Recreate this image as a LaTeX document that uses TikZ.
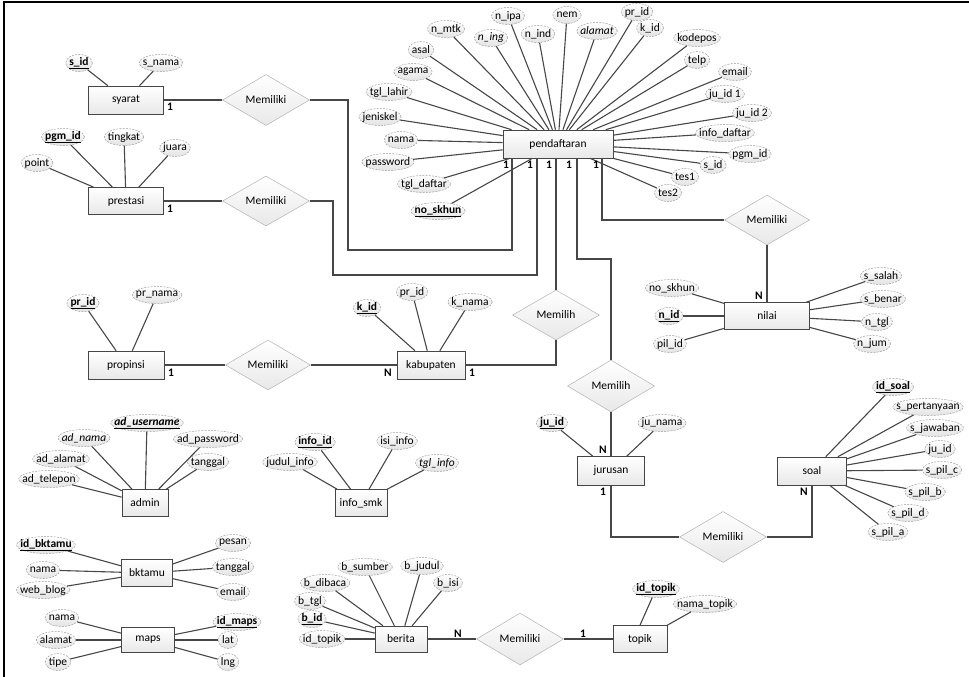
\documentclass[tikz,border=0pt]{standalone}
\usepackage{fontspec}
\setmainfont{Carlito}
\usetikzlibrary{shapes.geometric}
\newcommand\erfont{\fontsize{11.5}{13}\selectfont}
\newcommand\attr[4][]{\node[attrib,#1] (#2) at (#3) {\makebox[0.7071\width]{#4}};}
\tikzset{
 attrib/.style={ellipse, draw=gray!75, dash pattern=on 2pt off 1.2pt, line width=0.5pt, top color=white, bottom color=gray!22, inner xsep=2.6pt, inner ysep=0pt, minimum height=17pt},
 entity/.style={rectangle, draw=gray!55!black, top color=white, bottom color=gray!18, inner sep=0pt, line width=0.6pt},
 relat/.style={diamond, draw=gray!60, top color=white, bottom color=gray!18, inner sep=0pt, line width=0.5pt},
 al/.style={draw=black!72, line width=1.1pt},
 rl/.style={draw=black!72, line width=1.4pt},
 card/.style={font=\erfont\bfseries, inner sep=0pt},
}
\begin{document}
\begin{tikzpicture}[x=1pt,y=-1pt, every node/.style={font=\erfont}]
\useasboundingbox (0,0) rectangle (969,677);
\draw[line width=2.5pt, black] (4,677) -- (4,2) -- (969,2);

% entities
\node[entity, minimum width=75pt, minimum height=28pt] (syarat) at (126,100) {syarat};
\node[entity, minimum width=75pt, minimum height=27pt] (prestasi) at (126,201) {prestasi};
\node[entity, minimum width=110pt, minimum height=28pt] (pend) at (558,144) {pendaftaran};
\node[entity, minimum width=76pt, minimum height=28pt] (prop) at (126,365) {propinsi};
\node[entity, minimum width=68pt, minimum height=28pt] (kab) at (431,365) {kabupaten};
\node[entity, minimum width=85pt, minimum height=27pt] (nilai) at (767,316) {nilai};
\node[entity, minimum width=67pt, minimum height=29pt] (jur) at (611,471) {jurusan};
\node[entity, minimum width=69pt, minimum height=28pt] (soal) at (812,471) {soal};
\node[entity, minimum width=46pt, minimum height=27pt] (admin) at (145,503) {admin};
\node[entity, minimum width=52pt, minimum height=27pt] (info) at (361,503) {info\_smk};
\node[entity, minimum width=51pt, minimum height=27pt] (bktamu) at (147,573) {bktamu};
\node[entity, minimum width=53pt, minimum height=25pt] (maps) at (148,640) {maps};
\node[entity, minimum width=52pt, minimum height=26pt] (berita) at (401,639) {berita};
\node[entity, minimum width=54pt, minimum height=27pt] (topik) at (640,639) {topik};

% relationships
\node[relat, minimum width=87pt, minimum height=51pt] (mA) at (266,100) {\makebox[0pt]{Memiliki}};
\node[relat, minimum width=87pt, minimum height=50pt] (mB) at (266,201) {\makebox[0pt]{Memiliki}};
\node[relat, minimum width=85pt, minimum height=50pt] (mC) at (268,365) {\makebox[0pt]{Memiliki}};
\node[relat, minimum width=87pt, minimum height=50pt] (mD) at (556,315) {\makebox[0pt]{Memilih}};
\node[relat, minimum width=85pt, minimum height=50pt] (mE) at (767,220) {\makebox[0pt]{Memiliki}};
\node[relat, minimum width=87pt, minimum height=52pt] (mF) at (611,386) {\makebox[0pt]{Memilih}};
\node[relat, minimum width=87pt, minimum height=51pt] (mG) at (723,537) {\makebox[0pt]{Memiliki}};
\node[relat, minimum width=87pt, minimum height=52pt] (mH) at (520,639) {\makebox[0pt]{Memiliki}};

% pendaftaran attributes
\attr{pa1}{508,16}{n\_ipa}
\attr{pa2}{567,15}{nem}
\attr{pa3}{446,29}{n\_mtk}
\attr{pa4}{491,38}{\textit{n\_ing}}
\attr{pa5}{538,34}{n\_ind}
\attr{pa6}{597,31}{\textit{alamat}}
\attr{pa7}{421,50}{asal}
\attr{pa8}{413,72}{agama}
\attr{pa9}{389,92}{tgl\_lahir}
\attr{pa10}{380,117}{jeniskel}
\attr{pa11}{401,140}{nama}
\attr{pa12}{388,162}{password}
\attr{pa13}{424,184}{tgl\_daftar}
\attr{pa14}{438,211}{\textbf{\underline{no\_skhun}}}
\attr{pa15}{637,12}{pr\_id}
\attr{pa16}{650,28}{k\_id}
\attr{pa17}{697,38}{kodepos}
\attr{pa18}{697,60}{telp}
\attr{pa19}{735,72}{email}
\attr{pa20}{725,94}{ju\_id 1}
\attr{pa21}{752,113}{ju\_id 2}
\attr{pa22}{725,133}{info\_daftar}
\attr{pa23}{750,154}{pgm\_id}
\attr{pa24}{713,165}{s\_id}
\attr{pa25}{685,177}{tes1}
\attr{pa26}{668,193}{tes2}
\foreach \a in {pa1,pa2,pa3,pa4,pa5,pa6,pa7,pa8,pa9,pa10,pa11,pa12,pa13,pa14,pa15,pa16,pa17,pa18,pa19,pa20,pa21,pa22,pa23,pa24,pa25,pa26} \draw[al] (\a) -- (pend);

% syarat
\attr{sy1}{79,63}{\textbf{\underline{s\_id}}}
\attr{sy2}{161,63}{s\_nama}
\foreach \a in {sy1,sy2} \draw[al] (\a) -- (syarat);
% prestasi
\attr{pr1}{63,137}{\textbf{\underline{pgm\_id}}}
\attr{pr2}{124,137}{tingkat}
\attr{pr3}{175,148}{juara}
\attr{pr4}{37,163}{point}
\foreach \a in {pr1,pr2,pr3,pr4} \draw[al] (\a) -- (prestasi);
% propinsi
\attr{po1}{83,303}{\textbf{\underline{pr\_id}}}
\attr{po2}{157,295}{pr\_nama}
\foreach \a in {po1,po2} \draw[al] (\a) -- (prop);
% kabupaten
\attr{ka1}{367,308}{\textbf{\underline{k\_id}}}
\attr{ka2}{412,292}{pr\_id}
\attr{ka3}{470,302}{k\_nama}
\foreach \a in {ka1,ka2,ka3} \draw[al] (\a) -- (kab);
% nilai
\attr{ni1}{672,288}{no\_skhun}
\attr{ni2}{669,316}{\textbf{\underline{n\_id}}}
\attr{ni3}{670,344}{pil\_id}
\attr{ni4}{881,276}{s\_salah}
\attr{ni5}{883,299}{s\_benar}
\attr{ni6}{877,322}{n\_tgl}
\attr{ni7}{872,344}{n\_jum}
\foreach \a in {ni1,ni2,ni3,ni4,ni5,ni6,ni7} \draw[al] (\a) -- (nilai);
% jurusan
\attr{ju1}{552,423}{\textbf{\underline{ju\_id}}}
\attr{ju2}{662,423}{ju\_nama}
\foreach \a in {ju1,ju2} \draw[al] (\a) -- (jur);
% soal
\attr{so1}{893,387}{\textbf{\underline{id\_soal}}}
\attr{so2}{928,407}{s\_pertanyaan}
\attr{so3}{935,428}{s\_jawaban}
\attr{so4}{940,449}{ju\_id}
\attr{so5}{942,470}{s\_pil\_c}
\attr{so6}{925,492}{s\_pil\_b}
\attr{so7}{908,513}{s\_pil\_d}
\attr{so8}{888,532}{s\_pil\_a}
\foreach \a in {so1,so2,so3,so4,so5,so6,so7,so8} \draw[al] (\a) -- (soal);
% admin
\attr{ad1}{147,423}{\textbf{\textit{\underline{ad\_username}}}}
\attr{ad2}{84,438}{\textit{ad\_nama}}
\attr{ad3}{208,439}{ad\_password}
\attr{ad4}{61,459}{ad\_alamat}
\attr{ad5}{208,462}{tanggal}
\attr{ad6}{49,479}{ad\_telepon}
\foreach \a in {ad1,ad2,ad3,ad4,ad5,ad6} \draw[al] (\a) -- (admin);
% info_smk
\attr{in1}{315,442}{\textbf{\underline{info\_id}}}
\attr{in2}{397,441}{isi\_info}
\attr{in3}{290,462}{judul\_info}
\attr{in4}{437,463}{\textit{tgl\_info}}
\foreach \a in {in1,in2,in3,in4} \draw[al] (\a) -- (info);
% bktamu
\attr{bk1}{46,545}{\textbf{\underline{id\_bktamu}}}
\attr{bk2}{43,570}{nama}
\attr{bk3}{43,590}{web\_blog}
\attr{bk4}{233,543}{pesan}
\attr{bk5}{233,567}{tanggal}
\attr{bk6}{233,592}{email}
\foreach \a in {bk1,bk2,bk3,bk4,bk5,bk6} \draw[al] (\a) -- (bktamu);
% maps
\attr{mp1}{62,618}{nama}
\attr{mp2}{56,640}{alamat}
\attr{mp3}{58,662}{tipe}
\attr{mp4}{237,622}{\textbf{\underline{id\_maps}}}
\attr{mp5}{228,640}{lat}
\attr{mp6}{228,662}{lng}
\foreach \a in {mp1,mp2,mp3,mp4,mp5,mp6} \draw[al] (\a) -- (maps);
% berita
\attr{be1}{365,567}{b\_sumber}
\attr{be2}{422,566}{b\_judul}
\attr{be3}{325,583}{b\_dibaca}
\attr{be4}{448,583}{b\_isi}
\attr{be5}{310,601}{b\_tgl}
\attr{be6}{312,619}{\textbf{\underline{b\_id}}}
\attr{be7}{322,639}{id\_topik}
\foreach \a in {be1,be2,be3,be4,be5,be6,be7} \draw[al] (\a) -- (berita);
% topik
\attr{to1}{656,589}{\textbf{\underline{id\_topik}}}
\attr{to2}{705,604}{nama\_topik}
\draw[al] (to1) -- (topik.north);
\draw[al] (to2) -- (topik.north east);

% relationship connectors
\draw[rl] (syarat.east) -- (mA.west);
\draw[rl] (prestasi.east) -- (mB.west);
\draw[rl] (mA.east) -| (348,250) -| ([xshift=-46pt]pend.south);
\draw[rl] (mB.east) -| (333,275) -| ([xshift=-21pt]pend.south);
\draw[rl] ([xshift=-2pt]pend.south) -- (mD.north);
\draw[rl] (mD.south) |- (kab.east);
\draw[rl] ([xshift=19pt]pend.south) |- (611,259) -- (mF.north);
\draw[rl] ([xshift=44pt]pend.south) |- (mE.west);
\draw[rl] (mE.south) -- (nilai.north);
\draw[rl] (mF.south) -- (jur.north);
\draw[rl] (jur.south) |- (mG.west);
\draw[rl] (mG.east) -| (soal.south);
\draw[rl] (prop.east) -- (mC.west);
\draw[rl] (mC.east) -- (kab.west);
\draw[rl] (berita.east) -- (mH.west);
\draw[rl] (mH.east) -- (topik.west);

% cardinalities
\node[card] (c1) at (170,107) {1};
\node[card] (c2) at (170,209) {1};
\node[card] (c3) at (171,373) {1};
\node[card] (c4) at (388,373) {N};
\node[card] (c5) at (472,373) {1};
\node[card] (c6) at (506,165) {1};
\node[card] (c7) at (530,165) {1};
\node[card] (c8) at (549,165) {1};
\node[card] (c9) at (569,165) {1};
\node[card] (c10) at (596,165) {1};
\node[card] (c11) at (759,296) {N};
\node[card] (c12) at (603,450) {N};
\node[card] (c13) at (603,492) {1};
\node[card] (c14) at (804,492) {N};
\node[card] (c15) at (458,634) {N};
\node[card] (c16) at (583,634) {1};
\end{tikzpicture}
\end{document}
